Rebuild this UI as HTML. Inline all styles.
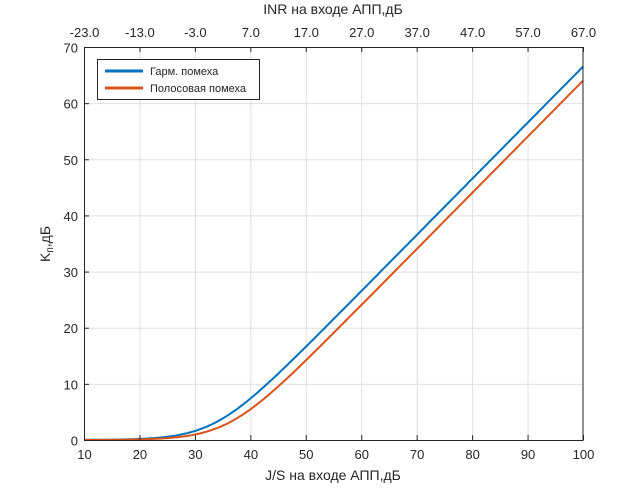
<!DOCTYPE html>
<html><head><meta charset="utf-8"><style>
body{margin:0;background:#fff}
text{font-family:"Liberation Sans",sans-serif;fill:#262626}
</style></head><body>
<svg id="s" width="644" height="484" xmlns="http://www.w3.org/2000/svg">
<rect x="84" y="47" width="499" height="393" fill="#fff"/>
<g id="grid" stroke="#dfdfdf" stroke-width="1"></g>
<g id="curves" fill="none" stroke-width="2"></g>
<rect x="84.5" y="47.5" width="498.5" height="393" fill="none" stroke="#262626" stroke-width="1"/>
<g id="ticks" stroke="#262626"></g>
<g id="labels" font-size="13"></g>
<rect x="97.5" y="59.5" width="162" height="40" fill="#fff" stroke="#262626"/>
<line x1="105" y1="71" x2="143" y2="71" stroke="#0072bd" stroke-width="3"/>
<line x1="105" y1="88" x2="143" y2="88" stroke="#d95319" stroke-width="3"/>
<text x="150" y="75" font-size="11">Гарм. помеха</text>
<text x="150" y="92" font-size="11">Полосовая помеха</text>
<text x="333" y="14" font-size="14" text-anchor="middle">INR на входе АПП,дБ</text>
<text x="333" y="480" font-size="14" text-anchor="middle">J/S на входе АПП,дБ</text>
<text transform="translate(50,244) rotate(-90)" font-size="14" text-anchor="middle">K<tspan font-size="10" dy="3">п</tspan><tspan dy="-3">,дБ</tspan></text>
</svg>
<script>
const NS="http://www.w3.org/2000/svg";
const X=v=>84+(v-10)*499/90, Y=v=>440-v*393/70;
function el(p,t,a,txt){const e=document.createElementNS(NS,t);for(const k in a)e.setAttribute(k,a[k]);if(txt!==undefined)e.textContent=txt;document.getElementById(p).appendChild(e);}
for(let v=10;v<=100;v+=10){const x=X(v)+0.5;
 if(v>10&&v<100)el('grid','line',{x1:x,y1:47,x2:x,y2:440});
 el('ticks','line',{x1:x,y1:440,x2:x,y2:435});el('ticks','line',{x1:x,y1:47,x2:x,y2:52});
 el('labels','text',{x:x,y:459,'text-anchor':'middle'},v);
 el('labels','text',{x:x,y:37,'text-anchor':'middle'},(v-33).toFixed(1));}
for(let v=0;v<=70;v+=10){const y=Y(v)+0.5;
 if(v>0&&v<70)el('grid','line',{x1:84,y1:y,x2:583,y2:y});
 el('ticks','line',{x1:84,y1:y,x2:89,y2:y});
 el('labels','text',{x:78,y:y+5,'text-anchor':'end'},v);}
function curve(c,col){let d="";for(let v=10;v<=100;v+=0.25){const y=10*Math.log10(1+Math.pow(10,(v-c)/10));d+=(d?"L":"M")+X(v).toFixed(1)+","+Y(y).toFixed(1);}
 el('curves','path',{d:d,stroke:col});}
curve(33.5,"#0072bd");curve(36,"#d95319");
</script>
</body></html>
